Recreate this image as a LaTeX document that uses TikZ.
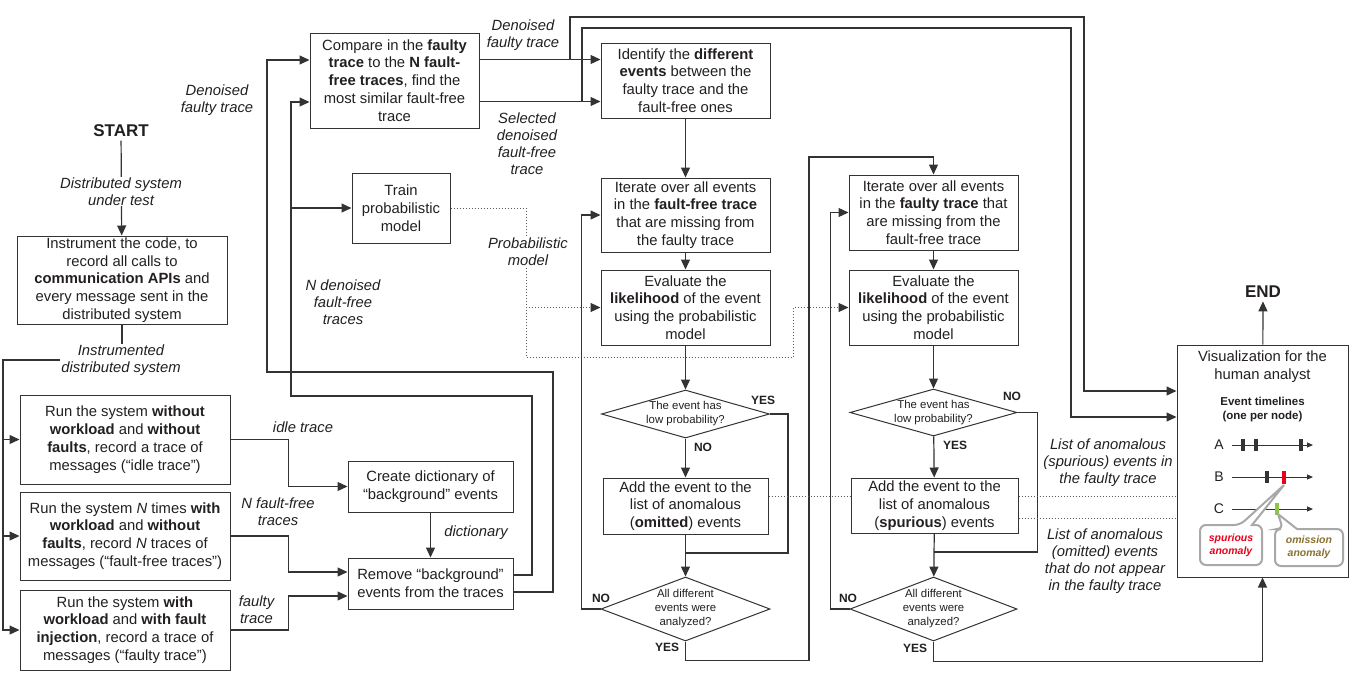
\documentclass[tikz,border=0pt]{standalone}
\usepackage{fontspec}
\setmainfont{Liberation Sans}
\usetikzlibrary{arrows.meta,shapes.geometric,positioning}
\definecolor{linec}{HTML}{333333}
\definecolor{txtc}{HTML}{231F20}
\definecolor{spurc}{HTML}{E8001C}
\definecolor{omisc}{HTML}{8A7130}
\definecolor{omtick}{HTML}{8DC63F}
\definecolor{callc}{HTML}{A8A8A8}
\tikzset{
	box/.style={draw=linec, line width=1pt, align=center, inner sep=1pt, text=txtc, font=\fontsize{14.8}{17.8}\selectfont},
	decision/.style={draw=linec, line width=1pt, shape=diamond, inner sep=0pt},
	dtext/.style={align=center, text=txtc, font=\fontsize{11.4}{14}\selectfont},
	lbl/.style={align=center, text=txtc, font=\fontsize{14.8}{17}\selectfont\itshape},
	yn/.style={text=txtc, font=\fontsize{12}{14}\selectfont\bfseries},
	flow/.style={draw=linec, line width=1.2pt},
	arr/.style={flow, -{Triangle[length=10pt,width=9pt]}},
	dots/.style={draw=linec!80, line width=1pt, dotted},
	dotarr/.style={dots, -{Triangle[length=10pt,width=9pt,color=linec]}},
	callout/.style={draw=callc, line width=2pt, fill=white},
}
\begin{document}
\begin{tikzpicture}[x=1pt,y=-1pt]
				\useasboundingbox (0,0) rectangle (1350,678);
				\coordinate (split) at (3,360);
				\coordinate (jt) at (291,208);
				\coordinate (j1) at (570,59.5);
				\coordinate (j2) at (582,101.5);
				\coordinate (pm) at (526,307.5);
				\coordinate (m1) at (685.5,553);
				\coordinate (m2) at (933.5,552);
				%
				\node[text=txtc, font=\fontsize{17}{20}\selectfont\bfseries] (start) at (121,131) {START};
				\node[box, minimum width=210pt, minimum height=88pt] (inst) at (122,280) {Instrument the code, to\\record all calls to\\\textbf{communication APIs} and\\every message sent in the\\distributed system};
				\node[box, minimum width=210pt, minimum height=89pt] (run1) at (125,439.5) {Run the system \textbf{without}\\\textbf{workload} and \textbf{without}\\\textbf{faults}, record a trace of\\messages (“idle trace”)};
				\node[box, minimum width=210pt, minimum height=88pt] (run2) at (125,536) {Run the system \textit{N} times \textbf{with}\\\textbf{workload} and \textbf{without}\\\textbf{faults}, record \textit{N} traces of\\messages (“fault-free traces”)};
				\node[box, minimum width=210pt, minimum height=80pt] (run3) at (125,630) {Run the system \textbf{with}\\\textbf{workload} and \textbf{with fault}\\\textbf{injection}, record a trace of\\messages (“faulty trace”)};
				\node[box, minimum width=165pt, minimum height=51pt] (dct) at (430.5,486.5) {Create dictionary of\\“background” events};
				\node[box, minimum width=165pt, minimum height=51pt] (rem) at (430.5,583.5) {Remove “background”\\events from the traces};
				\node[box, minimum width=169pt, minimum height=95pt] (cmp) at (394.5,80.5) {Compare in the \textbf{faulty}\\\textbf{trace} to the \textbf{N fault-}\\\textbf{free traces}, find the\\most similar fault-free\\trace};
				\node[box, minimum width=98pt, minimum height=70pt] (trn) at (401,208) {Train\\probabilistic\\model};
				%
				\node[box, minimum width=169pt, minimum height=75pt] (idn) at (685.5,80.5) {Identify the \textbf{different}\\\textbf{events} between the\\faulty trace and the\\fault-free ones};
				\node[box, minimum width=169pt, minimum height=74pt] (it1) at (685.5,215) {Iterate over all events\\in the \textbf{fault-free trace}\\that are missing from\\the faulty trace};
				\node[box, minimum width=169pt, minimum height=75pt] (ev1) at (685.5,307.5) {Evaluate the\\\textbf{likelihood} of the event\\using the probabilistic\\model};
				\node[decision, minimum width=168pt, minimum height=48pt] (dc1) at (685.5,414) {};
				\node[dtext] at (dc1) {The event has\\low probability?};
				\node[box, minimum width=165pt, minimum height=56pt] (ad1) at (685.5,506) {Add the event to the\\list of anomalous\\(\textbf{omitted}) events};
				\node[decision, minimum width=169pt, minimum height=64pt] (dc2) at (685.5,609) {};
				\node[dtext] at (dc2) {All different\\events were\\analyzed?};
				%
				\node[box, minimum width=169pt, minimum height=75pt] (it2) at (933.5,212.5) {Iterate over all events\\in the \textbf{faulty trace} that\\are missing from the\\fault-free trace};
				\node[box, minimum width=169pt, minimum height=75pt] (ev2) at (933.5,307.5) {Evaluate the\\\textbf{likelihood} of the event\\using the probabilistic\\model};
				\node[decision, minimum width=167pt, minimum height=47pt] (dc3) at (933.5,412.5) {};
				\node[dtext] at (dc3) {The event has\\low probability?};
				\node[box, minimum width=167pt, minimum height=55pt] (ad2) at (934.5,505.5) {Add the event to the\\list of anomalous\\(\textbf{spurious}) events};
				\node[decision, minimum width=167pt, minimum height=64pt] (dc4) at (933.5,609) {};
				\node[dtext] at (dc4) {All different\\events were\\analyzed?};
				%
				\node[box, minimum width=171pt, minimum height=232pt] (vis) at (1262.5,461) {};
				\node[text=txtc, font=\fontsize{17}{20}\selectfont\bfseries] (end) at (1263,292) {END};
				%
				\draw[arr] (start) -- (inst);
				\node[lbl, fill=white, inner sep=1pt] at (121,191.5) {Distributed system\\under test};
				\draw[flow] (inst.south) |- (split) -- (3,630);
				\draw[arr] (split) |- (run1.west);
				\draw[arr] (split) |- (run2.west);
				\draw[arr] (split) |- (run3.west);
				\node[lbl, fill=white, inner sep=1pt] at (121,360) {Instrumented\\distributed system};
				%
				\draw[arr] (run1.east) -- ++(58,0) |- (dct.west);
				\draw[arr] (run2.east) -- ++(58,0) |- ([yshift=11.5pt]rem.west);
				\draw[arr] (run3.east) -- ++(58,0) |- ([yshift=-12.5pt]rem.west);
				\draw[arr] (dct) -- (rem);
				\node[lbl] at (303,427) {idle trace};
				\node[lbl] at (278,511.5) {\textit{N} fault-free\\traces};
				\node[lbl] at (256.5,610) {faulty\\trace};
				\node[lbl] at (476,533) {dictionary};
				%
				\draw[arr] ([yshift=8.5pt]rem.east) -| (532,396) -- (291,396) |- ([yshift=-21.5pt]cmp.west);
				\draw[arr] (jt) -- (trn.west);
				\draw[arr] ([yshift=-8.5pt]rem.east) -| (553,372) -- (267,372) |- ([yshift=20.5pt]cmp.west);
				\node[lbl] at (217,100) {Denoised\\faulty trace};
				\node[lbl] at (343,302) {\textit{N} denoised\\fault-free\\traces};
				%
				\draw[arr] ([yshift=21pt]cmp.east) -- ([yshift=21pt]idn.west);
				\draw[arr] ([yshift=-21pt]cmp.east) -- ([yshift=-21pt]idn.west);
				\draw[arr] (j1) |- (1084,17) |- ([yshift=70pt]vis.west);
				\draw[arr] (j2) |- (1071,28) |- ([yshift=44pt]vis.west);
				\node[lbl] at (523,35.5) {Denoised\\faulty trace};
				\node[lbl] at (527,143.5) {Selected\\denoised\\fault-free\\trace};
				%
				\draw[dotarr] (trn.east) -| (526,357) -- (793,357) |- (ev2.west);
				\draw[dotarr] (pm) -- (ev1.west);
				\node[lbl, fill=white, inner sep=1pt] at (528,251.5) {Probabilistic\\model};
				%
				\draw[arr] (idn) -- (it1);
				\draw[arr] (it1) -- (ev1);
				\draw[arr] (ev1) -- (dc1);
				\draw[arr] (dc1) -- (ad1);
				\draw[flow] (dc1.east) -- ++(18,0) |- (m1);
				\draw[arr] (ad1) -- (dc2);
				\draw[arr] (dc2.west) -- ++(-19,0) |- (it1.west);
				\draw[arr] (dc2.south) -- ++(0,19) -| (809,157) -| (it2.north);
				\node[yn] at (763,400) {YES};
				\node[yn] at (703,447) {NO};
				\node[yn] at (601,598) {NO};
				\node[yn] at (667,647) {YES};
				%
				\draw[arr] (it2) -- (ev2);
				\draw[arr] (ev2) -- (dc3);
				\draw[arr] (dc3) -- (ad2);
				\draw[flow] (dc3.east) -- ++(20,0) |- (m2);
				\draw[arr] (ad2) -- (dc4);
				\draw[arr] (dc4.west) -- ++(-19,0) |- (it2.west);
				\draw[arr] (dc4.south) -- ++(0,20) -| (vis.south);
				\node[yn] at (1012,396) {NO};
				\node[yn] at (955,445) {YES};
				\node[yn] at (848,598) {NO};
				\node[yn] at (915,648) {YES};
				%
				\draw[dots] ([yshift=10pt]ad1.east) -- ([yshift=9.5pt]ad2.west);
				\draw[dots] ([yshift=9.5pt]ad2.east) -- ([yshift=-35pt]vis.west);
				\draw[dots] ([yshift=-12.5pt]ad2.east) -- ([yshift=-57pt]vis.west);
				\node[lbl] at (1108,462.5) {List of anomalous\\(spurious) events in\\the faulty trace};
				\node[lbl] at (1105,561.5) {List of anomalous\\(omitted) events\\that do not appear\\in the faulty trace};
				\draw[arr] (vis) -- (end);
				%
				\node[align=center, text=txtc, font=\fontsize{14.8}{17.5}\selectfont] at (1262.5,366.5) {Visualization for the\\human analyst};
				\node[align=center, text=txtc, font=\fontsize{11.5}{14}\selectfont\bfseries] at (1262.5,410) {Event timelines\\(one per node)};
				\foreach \n/\y in {A/445,B/477,C/509}{
						\node[text=txtc, font=\fontsize{14}{16}\selectfont] (tl\n) at (1219,\y) {\n};
						\draw[draw=linec, line width=1pt, -{Triangle[length=6pt,width=5pt]}] (1232,\y) -- (1313,\y);
					}
				\foreach \x in {1243,1256,1301}
				\draw[linec, line width=3.5pt] (\x,439) -- (\x,451);
				\draw[linec, line width=3.5pt] (1267,471) -- (1267,483);
				\draw[spurc, line width=4.5pt] (1284,471) -- (1284,484);
				\draw[omtick, line width=3.5pt] (1277,503) -- (1277,515);
				%
				\draw[callout] (1252,525) [rounded corners=6pt] -- (1262,525) -- (1262,565) -- (1200,565) -- (1200,525) -- (1240,525) [sharp corners] -- (1284,485) -- cycle;
				\draw[callout] (1297,529) [rounded corners=6pt] -- (1343,529) -- (1343,566) -- (1275,566) -- (1275,529) -- (1283,529) [sharp corners] -- (1278,514) -- cycle;
				\node[align=center, text=spurc, font=\fontsize{10.5}{13}\selectfont\bfseries\itshape] at (1231,545) {spurious\\anomaly};
				\node[align=center, text=omisc, font=\fontsize{10.5}{13}\selectfont\bfseries\itshape] at (1309,547.5) {omission\\anomaly};
			\end{tikzpicture}
\end{document}
